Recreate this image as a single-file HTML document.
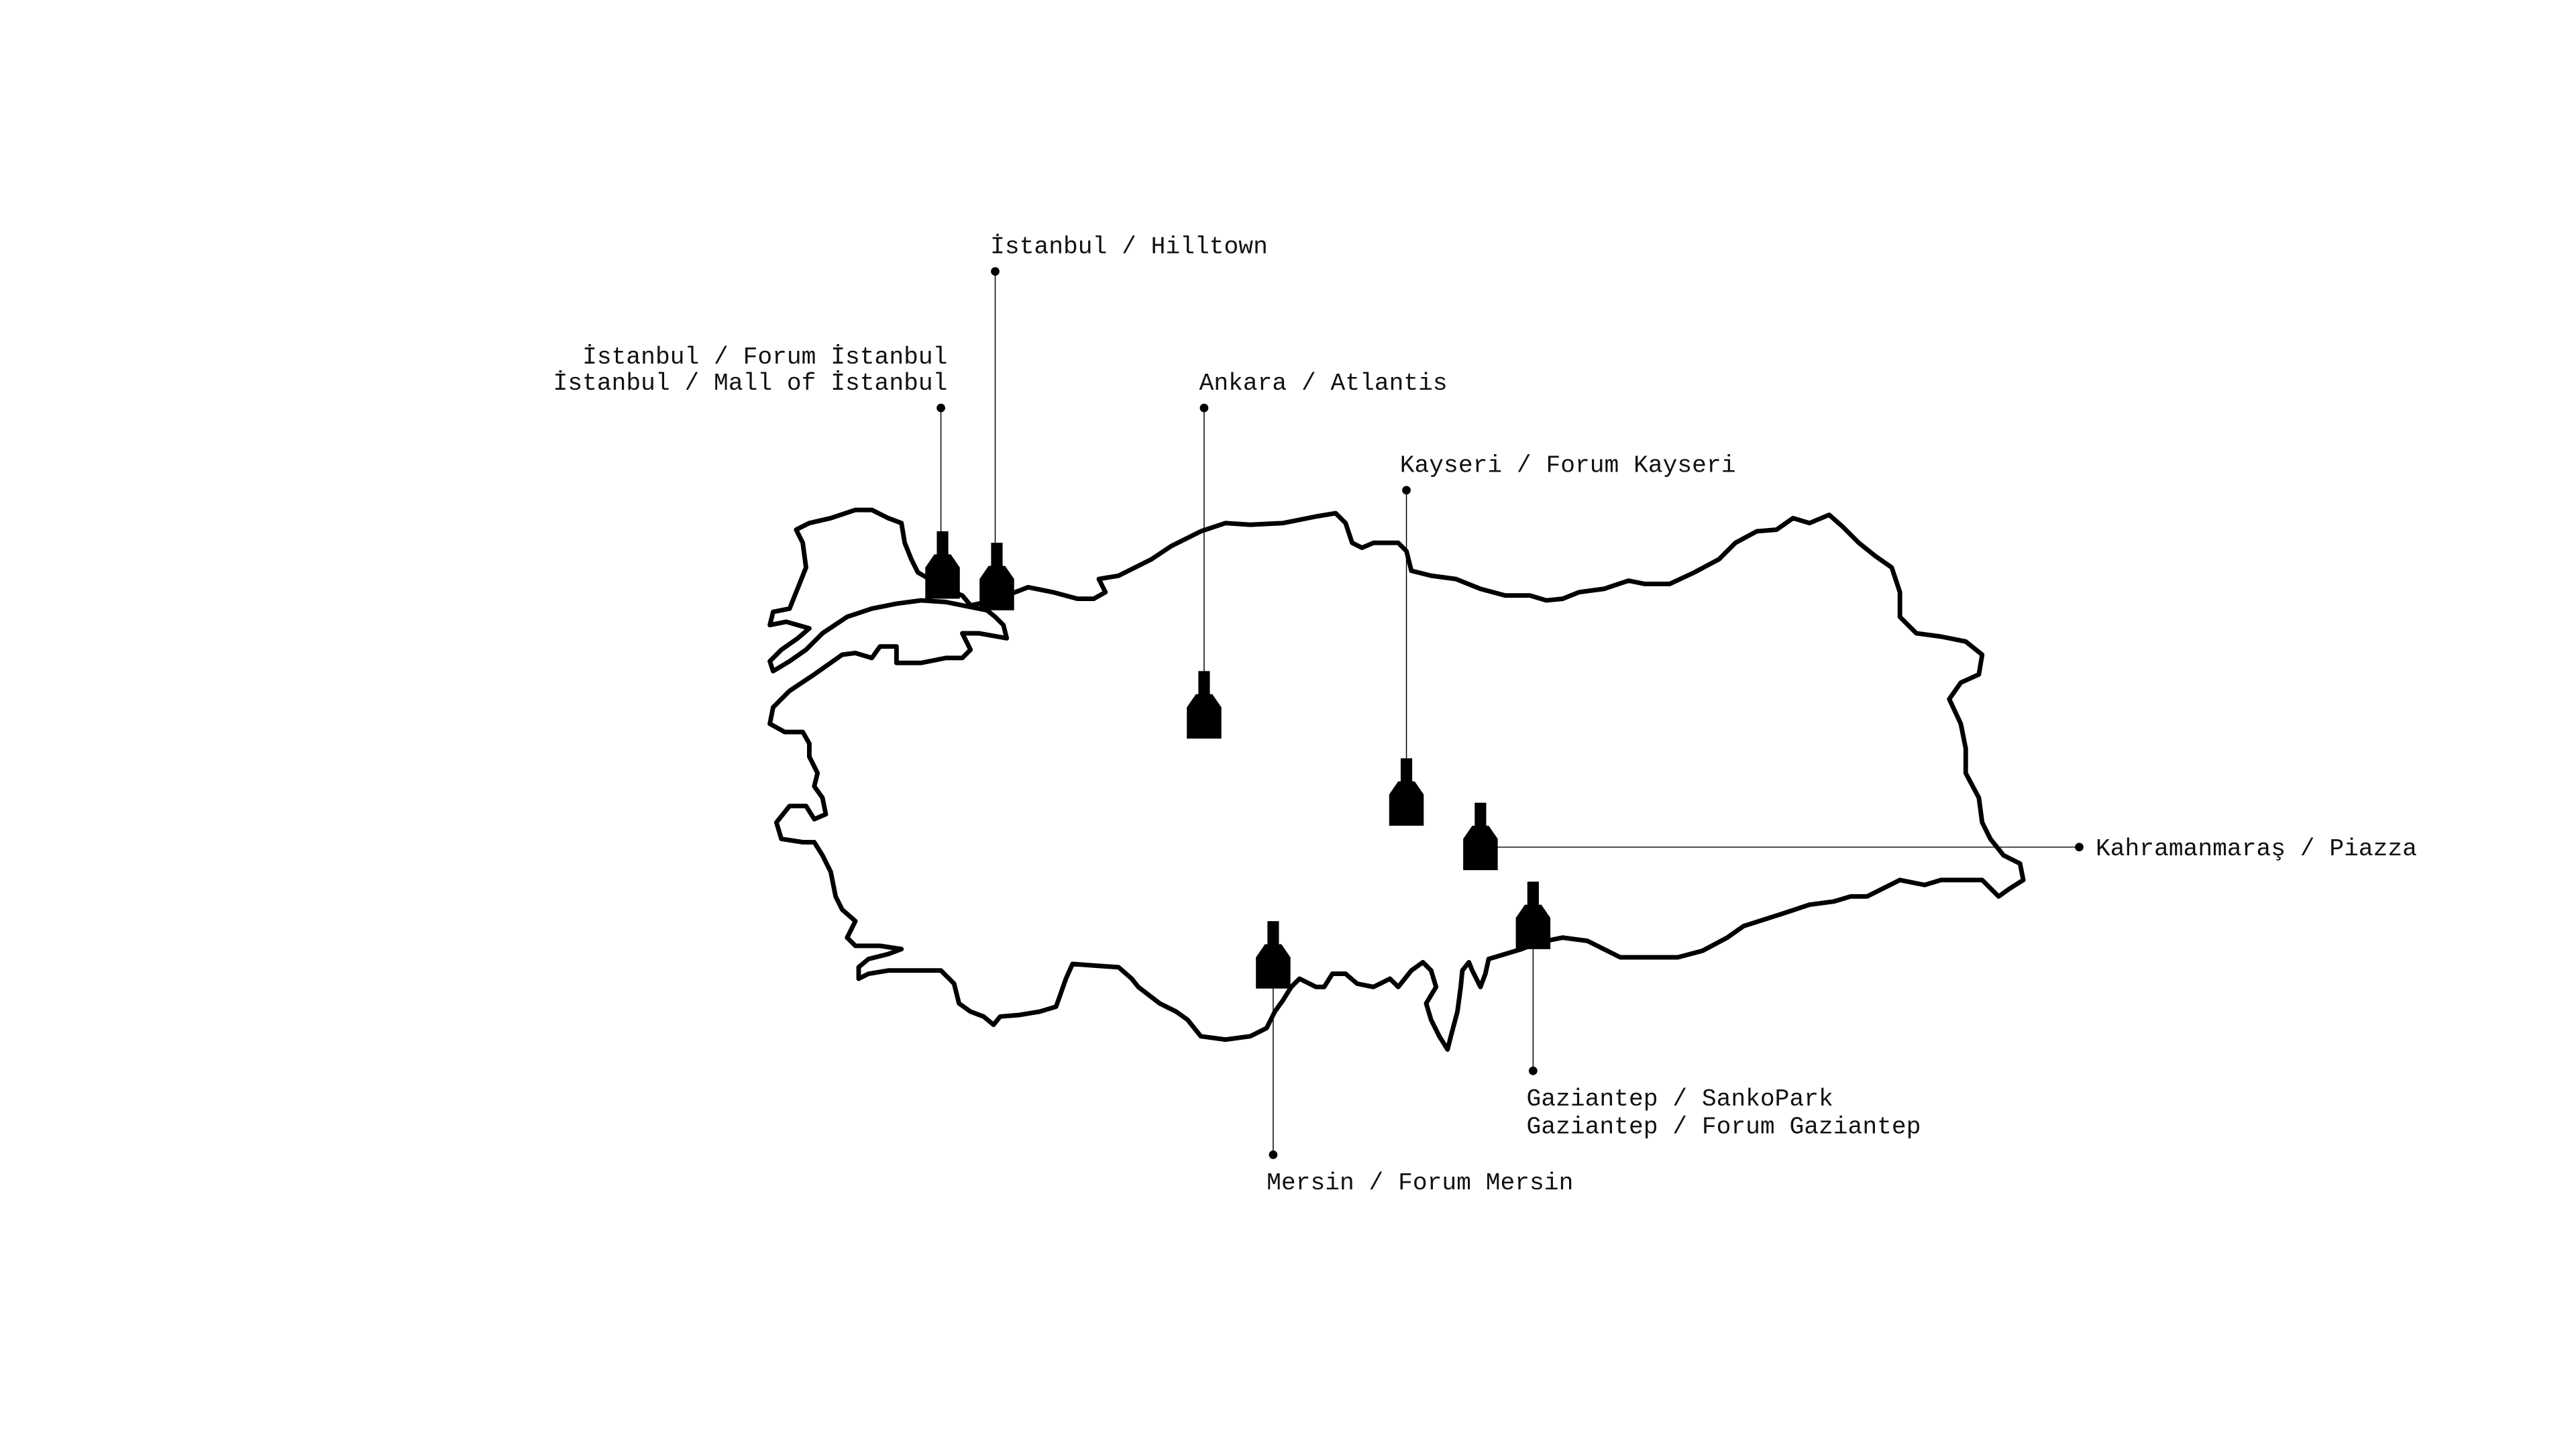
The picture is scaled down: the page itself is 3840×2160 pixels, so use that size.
<!DOCTYPE html>
<html><head><meta charset="utf-8"><style>html,body{margin:0;padding:0;background:#fff;width:3840px;height:2160px;overflow:hidden}svg{display:block}text{font-family:"Liberation Mono",monospace;font-size:14.8px;fill:#111}</style></head><body>
<svg width="3840" height="2160" viewBox="0 0 1566 880.9" preserveAspectRatio="none" xmlns="http://www.w3.org/2000/svg">
<path fill="none" stroke="#000" stroke-width="2.8" stroke-linejoin="round" d="M468,380 L470,372 480,370 484,360 490,345 488,330 484,322 492,318 505,315 520,310 530,310 540,315 548,318 550,330 554,340 558,348 565,352 575,358 585,362 590,368 600,366 612,362 625,357 640,360 655,364 665,364 672,360 668,352 680,350 700,340 712,332 730,323 745,318 760,319 780,318 800,314 812,312 818,318 822,330 828,333 835,330 850,330 855,335 858,347 870,350 885,352 900,358 915,362 930,362 940,365 950,364 960,360 975,358 990,353 1000,355 1015,355 1030,348 1045,340 1055,330 1068,323 1080,322 1090,315 1100,318 1112,313 1120,320 1130,330 1140,338 1150,345 1155,360 1155,375 1165,385 1180,387 1195,390 1205,398 1203,410 1192,415 1185,425 1192,440 1195,455 1195,470 1203,485 1205,500 1210,510 1218,520 1228,525 1230,535 1222,540 1215,545 1210,540 1205,535 1195,535 1180,535 1170,538 1155,535 1145,540 1135,545 1125,545 1115,548 1100,550 1085,555 1060,563 1050,570 1035,578 1020,582 1000,582 985,582 975,577 965,572 950,570 935,573 925,577 915,580 905,583 903,592 900,600 895,590 893,585 889,590 888,600 886,615 882,630 880,638 875,630 870,620 867,610 873,600 870,590 865,585 858,590 850,600 845,595 835,600 825,598 818,592 810,592 805,600 800,600 790,595 785,600 780,608 775,615 770,625 760,630 745,632 730,630 722,620 715,615 705,610 692,600 688,595 680,588 665,587 652,586 648,595 642,612 632,615 620,617 608,618 604,623 598,618 590,615 583,610 580,598 572,590 560,590 550,590 540,590 528,592 522,595 522,588 528,583 540,580 548,577 535,575 520,575 515,570 520,560 512,553 508,545 505,530 500,520 495,512 488,512 475,510 472,500 480,490 490,490 495,498 502,495 500,485 495,478 497,470 492,460 492,452 488,445 477,445 468,440 470,430 480,420 495,410 512,398 520,397 530,400 535,393 545,393 545,403 560,403 575,400 585,400 590,395 585,385 595,385 612,388 610,380 605,375 600,371 595,370 585,368 575,366 560,365 545,367 530,370 515,375 500,385 490,395 480,402 470,408 468,402 475,395 485,388 492,382 485,380 478,378 Z"/>
<g stroke="#000" stroke-width="0.6">
<line x1="572" y1="248" x2="572" y2="323"/>
<line x1="605" y1="165" x2="605" y2="330"/>
<line x1="732" y1="248" x2="732" y2="408"/>
<line x1="855" y1="298" x2="855" y2="461"/>
<line x1="905" y1="515" x2="1264" y2="515"/>
<line x1="932" y1="577" x2="932" y2="651"/>
<line x1="774" y1="601" x2="774" y2="702"/>
</g>
<g fill="#000">
<circle cx="572" cy="248" r="2.6"/><circle cx="605" cy="165" r="2.6"/><circle cx="732" cy="248" r="2.6"/><circle cx="855" cy="298" r="2.6"/><circle cx="1264" cy="515" r="2.6"/><circle cx="932" cy="651" r="2.6"/><circle cx="774" cy="702" r="2.6"/>
<polygon transform="translate(573,323)" points="-3.5,0 3.5,0 3.5,14 5,14 10.5,22 10.5,41 -10.5,41 -10.5,22 -5,14 -3.5,14"/>
<polygon transform="translate(606,330)" points="-3.5,0 3.5,0 3.5,14 5,14 10.5,22 10.5,41 -10.5,41 -10.5,22 -5,14 -3.5,14"/>
<polygon transform="translate(732,408)" points="-3.5,0 3.5,0 3.5,14 5,14 10.5,22 10.5,41 -10.5,41 -10.5,22 -5,14 -3.5,14"/>
<polygon transform="translate(855,461)" points="-3.5,0 3.5,0 3.5,14 5,14 10.5,22 10.5,41 -10.5,41 -10.5,22 -5,14 -3.5,14"/>
<polygon transform="translate(900,488)" points="-3.5,0 3.5,0 3.5,14 5,14 10.5,22 10.5,41 -10.5,41 -10.5,22 -5,14 -3.5,14"/>
<polygon transform="translate(932,536)" points="-3.5,0 3.5,0 3.5,14 5,14 10.5,22 10.5,41 -10.5,41 -10.5,22 -5,14 -3.5,14"/>
<polygon transform="translate(774,560)" points="-3.5,0 3.5,0 3.5,14 5,14 10.5,22 10.5,41 -10.5,41 -10.5,22 -5,14 -3.5,14"/>
</g>
<text x="602" y="154">İstanbul / Hilltown</text>
<text x="576" y="221" text-anchor="end">İstanbul / Forum İstanbul</text>
<text x="576" y="237" text-anchor="end">İstanbul / Mall of İstanbul</text>
<text x="729" y="237">Ankara / Atlantis</text>
<text x="851" y="287">Kayseri / Forum Kayseri</text>
<text x="1274" y="520">Kahramanmaraş / Piazza</text>
<text x="928" y="672">Gaziantep / SankoPark</text>
<text x="928" y="689">Gaziantep / Forum Gaziantep</text>
<text x="770" y="723">Mersin / Forum Mersin</text>
</svg>
</body></html>
